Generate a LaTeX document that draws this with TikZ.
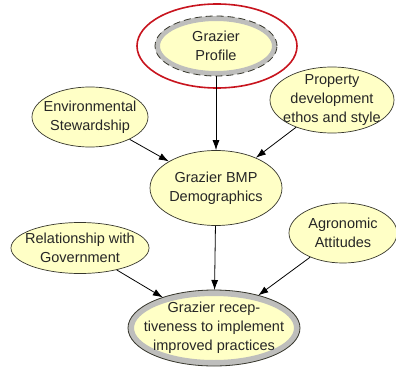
\documentclass[tikz,border=0pt]{standalone}
\usepackage{fontspec}
\setmainfont{Liberation Sans}
\usetikzlibrary{shapes.geometric,arrows.meta}
\definecolor{nodefill}{RGB}{255,255,198}
\definecolor{bandgray}{RGB}{190,190,188}
\definecolor{rimline}{RGB}{55,55,45}
\definecolor{ringred}{RGB}{200,20,30}
\begin{document}
\begin{tikzpicture}[x=1pt,y=-1pt,>={Latex[length=10pt,width=7pt]},
  belief/.style={ellipse,draw=rimline,fill=nodefill,line width=0.7pt,inner xsep=-16pt,inner ysep=-3pt,
    align=center,font=\fontsize{14.5}{19}\selectfont,text=black!85},
  keynode/.style={belief,draw=bandgray,line width=#1},
  rim/.style={draw=rimline,line width=0.8pt},
  link/.style={->,line width=0.8pt}]
  \useasboundingbox[fill=white] (0,0) rectangle (396,369);

  % the profile node, with its dashed rim and the red ring
  \node[keynode=5pt,minimum width=117pt,minimum height=55pt] (profile) at (216,46) {Grazier\\Profile};
  \draw[rim,dash pattern=on 7pt off 4pt] (profile.center) ellipse [x radius=61pt,y radius=30pt];
  \draw[ringred,line width=1.6pt] (217,46) ellipse [x radius=80pt,y radius=42pt];

  % plain nodes
  \foreach \nm/\x/\y/\w/\h/\txt in {
    enviro/90/117/116/60/Environmental\\Stewardship,
    property/332/100/124/66/Property\\development\\ethos and style,
    bmp/216/188/132/75/Grazier BMP\\Demographics,
    govt/80/248/138/51/Relationship with\\Government,
    agro/343/233/108/60/Agronomic\\Attitudes}
  {
    \node[belief,minimum width=\w pt,minimum height=\h pt] (\nm) at (\x,\y) {\txt};
  }

  % the outcome node
  \node[keynode=6pt,minimum width=166pt,minimum height=70pt] (recept) at (214,328) {Grazier recep-\\tiveness to implement\\improved practices};
  \draw[rim] (recept.center) ellipse [x radius=86pt,y radius=38pt];

  \foreach \a/\b in {profile/bmp,enviro/bmp,property/bmp,govt/recept,bmp/recept,agro/recept}
    \draw[link] (\a) -- (\b);
\end{tikzpicture}
\end{document}
